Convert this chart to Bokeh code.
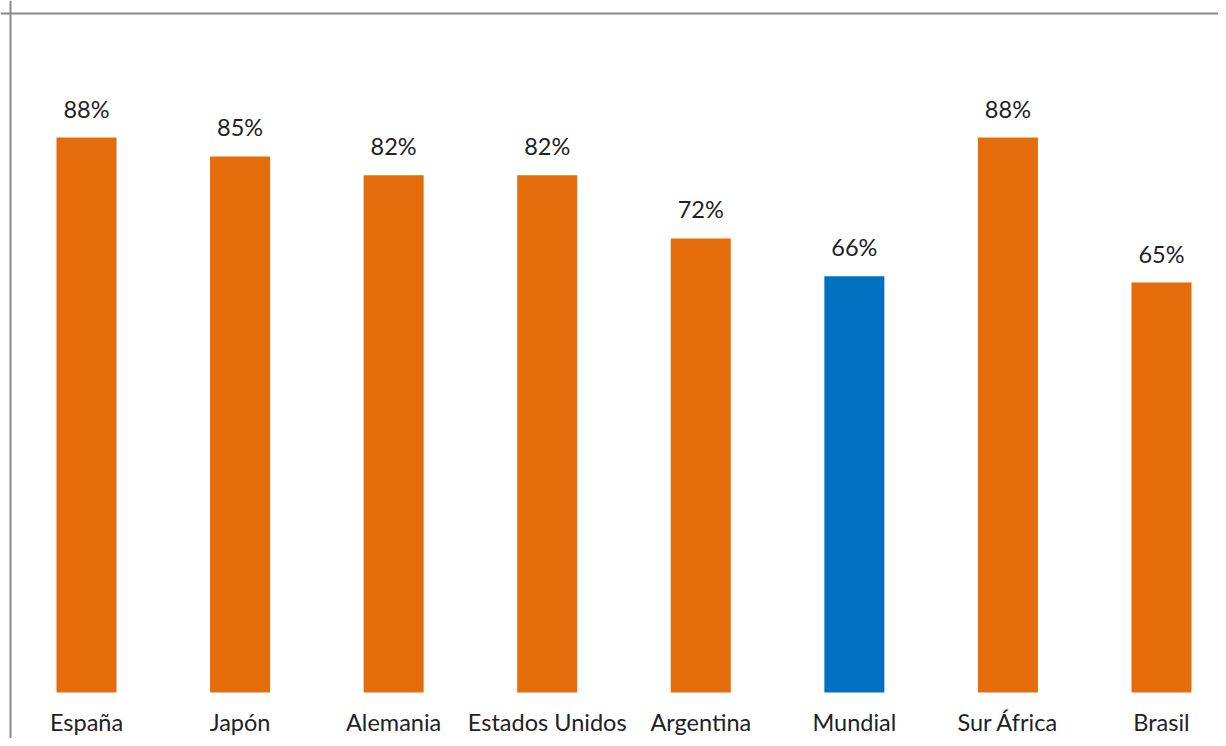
from bokeh.plotting import figure
from bokeh.models import ColumnDataSource, Range1d, Span
from bokeh.core.properties import value
from bokeh.embed import file_html
from bokeh.resources import INLINE

categories = ["España", "Japón", "Alemania", "Estados Unidos", "Argentina", "Mundial", "Sur África", "Brasil"]
values = [88, 85, 82, 82, 72, 66, 88, 65]
highlight = "Mundial"

ORANGE = "#E46C0A"
BLUE = "#0070C0"
TEXT = "#222222"
FONT = "Lato"

W, H = 1218, 738
# pixel geometry (canvas coordinates)
x0_px, step_px = 86.0, 153.57   # centre of first category, spacing
y0_px, per_pct = 692.0, 6.3068  # zero line, px per percent

def xd(px):
    return (px - x0_px) / step_px

def yd(py):
    return (y0_px - py) / per_pct

xs = list(range(len(categories)))
colors = [BLUE if c == highlight else ORANGE for c in categories]
labels = [f"{v}%" for v in values]

src = ColumnDataSource(dict(x=xs, top=values, color=colors, label=labels, cat=categories,
                            zero=[0] * len(xs)))

p = figure(width=W, height=H, output_backend="svg", toolbar_location=None,
           x_range=Range1d(xd(0), xd(W)), y_range=Range1d(yd(H), yd(0)),
           x_axis_location=None, y_axis_location=None, min_border=0)
p.outline_line_color = None
p.xgrid.visible = False
p.ygrid.visible = False
p.background_fill_color = "white"
p.border_fill_color = "white"

p.vbar(x="x", top="top", bottom=0, width=60 / step_px, color="color", line_color=None, source=src)

p.text(x="x", y="top", text="label", source=src, text_align="center", text_baseline="alphabetic",
       y_offset=-29, text_font=value(FONT), text_font_size="23.5px", text_color=TEXT)
p.text(x="x", y="zero", text="cat", source=src, text_align="center", text_baseline="alphabetic",
       y_offset=29, text_font=value(FONT), text_font_size="23.5px", text_color=TEXT)

p.add_layout(Span(location=xd(10), dimension="height", line_color="#898989", line_width=2))
p.add_layout(Span(location=yd(13), dimension="width", line_color="#898989", line_width=2))

open("out.html", "w").write(file_html(p, INLINE))
